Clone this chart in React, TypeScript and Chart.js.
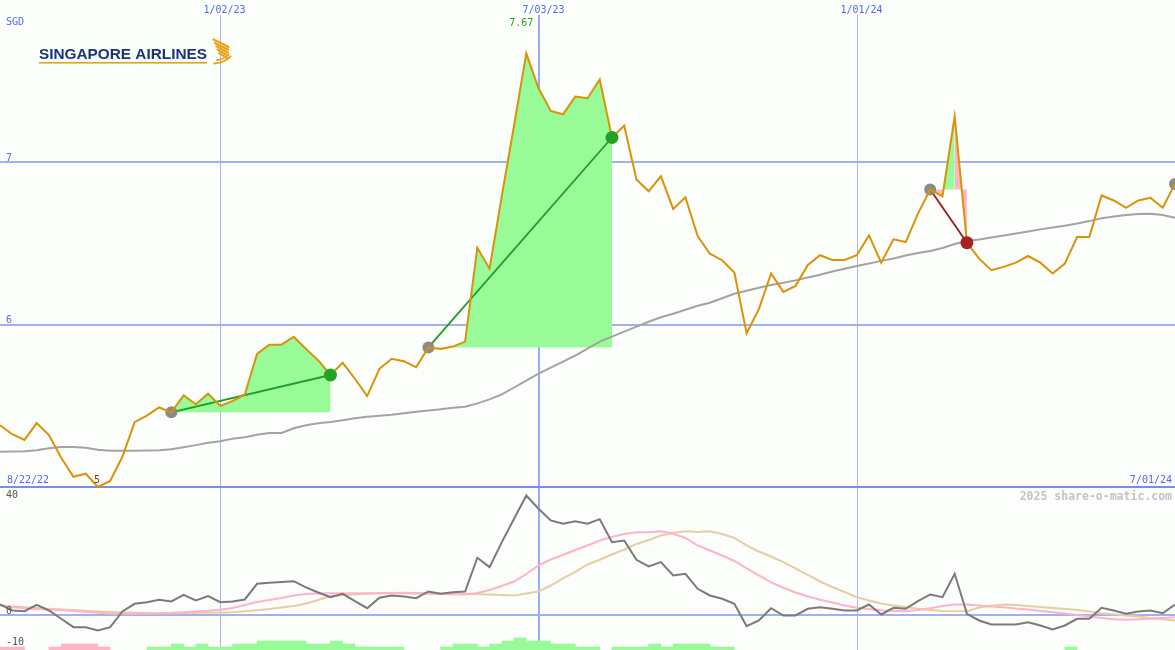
import { useEffect, useRef } from 'react';
import { Chart, registerables } from 'chart.js';

Chart.register(...registerables);

// Weekly closing price of Singapore Airlines (SGD), first week 8/22/22
const weeklyClose = [
  5.38, 5.325, 5.29, 5.394, 5.32, 5.18, 5.063, 5.082, 5.0, 5.037,
  5.186, 5.4, 5.44, 5.49, 5.46, 5.565, 5.51, 5.575, 5.5, 5.53,
  5.57, 5.82, 5.877, 5.877, 5.926, 5.85, 5.78, 5.69, 5.765, 5.667,
  5.56, 5.728, 5.79, 5.775, 5.738, 5.86, 5.85, 5.865, 5.896, 6.474,
  6.345, 6.793, 7.227, 7.67, 7.456, 7.317, 7.296, 7.405, 7.395, 7.51,
  7.153, 7.225, 6.894, 6.822, 6.914, 6.713, 6.785, 6.546, 6.437, 6.397,
  6.321, 5.947, 6.096, 6.315, 6.202, 6.239, 6.368, 6.428, 6.399, 6.399,
  6.428, 6.55, 6.382, 6.526, 6.509, 6.684, 6.833, 6.79, 7.282, 6.505,
  6.407, 6.336, 6.356, 6.382, 6.423, 6.382, 6.315, 6.376, 6.54, 6.54,
  6.796, 6.765, 6.72, 6.765, 6.781, 6.72, 6.867,
];

// Long moving average of the close
const movingAverage = [
  5.217, 5.219, 5.221, 5.227, 5.239, 5.247, 5.247, 5.242, 5.23, 5.223,
  5.223, 5.224, 5.225, 5.227, 5.233, 5.245, 5.258, 5.272, 5.282, 5.298,
  5.307, 5.322, 5.333, 5.333, 5.362, 5.38, 5.393, 5.401, 5.411, 5.423,
  5.433, 5.439, 5.445, 5.454, 5.463, 5.472, 5.479, 5.488, 5.494, 5.515,
  5.54, 5.571, 5.613, 5.656, 5.699, 5.736, 5.773, 5.81, 5.853, 5.896,
  5.926, 5.957, 5.988, 6.018, 6.046, 6.067, 6.092, 6.117, 6.135, 6.163,
  6.19, 6.209, 6.227, 6.245, 6.258, 6.273, 6.291, 6.307, 6.328, 6.344,
  6.362, 6.377, 6.393, 6.408, 6.426, 6.442, 6.454, 6.472, 6.497, 6.515,
  6.525, 6.537, 6.549, 6.561, 6.574, 6.587, 6.598, 6.61, 6.623, 6.638,
  6.655, 6.666, 6.675, 6.681, 6.683, 6.675, 6.658,
];

// Lower panel: momentum oscillator
const momentum = [
  3.79, 1.72, 1.48, 3.69, 1.72, -1.14, -4.03, -4.03, -5.17, -4.03,
  1.38, 4.03, 4.59, 5.41, 4.83, 7.14, 5.17, 6.66, 4.59, 4.83,
  5.52, 10.93, 11.28, 11.55, 11.83, 9.66, 7.93, 6.31, 7.48, 4.93,
  2.52, 6.1, 6.9, 6.55, 5.97, 8.28, 7.48, 8.03, 8.28, 19.9,
  16.66, 25.28, 33.34, 41.38, 36.79, 32.76, 31.62, 32.52, 31.62, 33.21,
  25.28, 25.86, 19.21, 16.9, 18.38, 13.79, 14.38, 9.21, 6.9, 5.76,
  4.03, -3.69, -1.72, 2.52, 0, 0, 2.31, 2.86, 2.31, 1.72,
  1.72, 3.79, 0.34, 2.66, 2.31, 4.93, 7.24, 6.31, 14.38, 0.59,
  -1.72, -3.1, -3.1, -3.1, -2.31, -3.45, -4.83, -3.45, -1.14, -1.14,
  2.66, 1.72, 0.59, 1.38, 1.72, 0.79, 3.79,
];

// Lower panel: fast smoothing of the oscillator
const fastSignal = [
  3.45, 2.93, 2.52, 2.24, 2.07, 1.83, 1.55, 1.28, 0.93, 0.59,
  0.59, 0.59, 0.59, 0.69, 0.93, 1.14, 1.38, 1.62, 1.97, 2.59,
  3.62, 4.66, 5.34, 6.03, 6.9, 7.41, 7.59, 7.69, 7.69, 7.69,
  7.69, 7.69, 7.69, 7.69, 7.59, 7.48, 7.41, 7.34, 7.24, 7.76,
  8.79, 10.17, 11.72, 14.31, 17.24, 19.31, 20.86, 22.59, 24.14, 25.86,
  27.07, 28.1, 28.72, 28.72, 29.07, 28.17, 26.72, 24.14, 22.41, 20.69,
  18.79, 16.21, 13.79, 11.38, 9.55, 7.93, 6.55, 5.45, 4.48, 3.45,
  2.66, 2.24, 1.79, 1.62, 1.48, 1.9, 2.52, 3.28, 3.79, 3.79,
  3.45, 3.1, 2.86, 2.41, 2.07, 1.55, 1.14, 0.69, 0.17, -0.34,
  -0.86, -1.31, -1.48, -1.31, -1.14, -0.86, -0.59,
];

// Lower panel: slow smoothing of the oscillator
const slowSignal = [
  3.45, 3.1, 2.83, 2.59, 2.34, 2.07, 1.86, 1.62, 1.38, 1.21,
  1.03, 0.93, 0.86, 0.79, 0.79, 0.86, 0.93, 0.97, 1.03, 1.14,
  1.48, 1.83, 2.24, 2.76, 3.28, 4.14, 5.34, 6.72, 7.07, 7.24,
  7.48, 7.66, 7.76, 7.83, 7.76, 7.69, 7.59, 7.48, 7.41, 7.31,
  7.24, 7.07, 6.9, 7.59, 8.28, 10.34, 12.76, 15.0, 17.59, 19.21,
  21.03, 22.76, 24.66, 26.03, 27.59, 28.45, 29.07, 28.79, 29.07, 28.1,
  26.72, 24.14, 22.07, 20.34, 18.38, 16.21, 13.97, 11.72, 9.83, 8.1,
  6.31, 5.17, 4.14, 3.45, 2.93, 2.31, 1.9, 1.55, 1.48, 1.48,
  2.76, 3.34, 3.79, 3.62, 3.28, 2.93, 2.59, 2.34, 1.9, 1.38,
  0.79, 0.41, 0, -0.34, -0.86, -1.31, -1.72,
];

// Weekly signal strength: positive = bullish (green), negative = bearish (pink)
const signalBars = [
  -1, -1, 0, 0, -1, -2, -2, -2, -1, 0,
  0, 0, 1, 1, 2, 1, 2, 1, 1, 2,
  2, 3, 3, 3, 3, 2, 2, 3, 2, 1,
  1, 1, 1, 0, 0, 0, 1, 2, 2, 1,
  2, 3, 4, 3, 3, 2, 2, 1, 1, 0,
  1, 1, 1, 2, 1, 2, 2, 2, 1, 1,
  0, 0, 0, 0, 0, 0, 0, 0, 0, 0,
  0, 0, 0, 0, 0, 0, 0, 0, 0, 0,
  0, 0, 0, 0, 0, 0, 0, 1, 0, 0,
  0, 0, 0, 0, 0, 0, 0,
];

// Trades: week of entry and week of exit (null = still open)
const tradeEntries = [14, 35, 76, 96];
const tradeExits: (number | null)[] = [27, 50, 79, null];

const dateTickWeeks = [18, 44, 70];
const dateTickLabels = ['1/02/23', '7/03/23', '1/01/24'];
const firstDateLabel = '8/22/22';
const lastDateLabel = '7/01/24';
const priceGridLevels = [7, 6];
const priceFloor = 5;
const oscillatorLabels = [40, 0, -10];
const currencyLabel = 'SGD';
const brandName = 'SINGAPORE AIRLINES';
const creditText = '2025 share-o-matic.com';

const PAGE_BG = '#fcfefc';
const GRID_BLUE = '#a3b0f0';
const GRID_BLUE_DARK = '#7b8be8';
const VLINE_MINOR = '#aab5ec';
const VLINE_MAJOR = '#9aa9f2';
const LABEL_BLUE = '#5468ec';
const LABEL_GREY = '#555555';
const PRICE_ORANGE = '#da9208';
const AVG_GREY = '#a3a3a3';
const MOM_GREY = '#7a7a7a';
const FAST_PINK = '#ffb3cb';
const SLOW_TAN = '#e3cfa2';
const GAIN_FILL = '#98fb98';
const LOSS_FILL = '#ffb6c1';
const WIN_LINE = '#249c24';
const LOSS_LINE = '#9a1a1a';
const ENTRY_DOT = '#8a8a8a';
const WIN_DOT = '#24a024';
const LOSS_DOT = '#a82020';
const MONO = '"DejaVu Sans Mono", monospace';

const fmt = (v: number) => String(Number(v.toFixed(2)));

function drawBrand(ctx: CanvasRenderingContext2D) {
  ctx.save();
  ctx.font = 'bold 15px "Liberation Sans", Arial, sans-serif';
  const w = ctx.measureText(brandName).width;
  ctx.translate(39, 59);
  ctx.scale(168 / w, 1);
  ctx.fillStyle = '#1d3377';
  ctx.fillText(brandName, 0, 0);
  ctx.restore();

  ctx.save();
  ctx.fillStyle = '#e6a21c';
  ctx.fillRect(39, 62, 168, 1.6);
  // stylised bird emblem: fanned wing stripes over a curved tail
  ctx.strokeStyle = '#eaa514';
  ctx.lineWidth = 2.2;
  ctx.lineCap = 'round';
  for (let k = 0; k < 5; k++) {
    ctx.beginPath();
    ctx.moveTo(213.5 + k * 1.4, 39.5 + k * 3.4);
    ctx.quadraticCurveTo(222 + k * 0.6, 43.5 + k * 3.2, 228.5 - k * 0.3, 47 + k * 2.8);
    ctx.stroke();
  }
  ctx.lineWidth = 1.8;
  ctx.beginPath();
  ctx.moveTo(214, 63.5);
  ctx.quadraticCurveTo(224, 63, 230.5, 56.5);
  ctx.stroke();
  ctx.beginPath();
  ctx.moveTo(217, 60);
  ctx.quadraticCurveTo(224, 59.5, 228.5, 54.5);
  ctx.stroke();
  ctx.restore();
}

const panelPlugin = {
  id: 'sharePanels',
  beforeDraw(chart: any) {
    const { ctx, width, height } = chart;
    ctx.save();
    ctx.fillStyle = PAGE_BG;
    ctx.fillRect(0, 0, width, height);
    ctx.restore();
  },
  beforeDatasetsDraw(chart: any) {
    const { ctx, width, height } = chart;
    const { x, y, y2 } = chart.scales;
    ctx.save();
    dateTickWeeks.forEach((wk, k) => {
      const major = dateTickLabels[k].startsWith('7/');
      const px = Math.round(x.getPixelForValue(wk)) + (major ? 0 : 0.5);
      ctx.strokeStyle = major ? VLINE_MAJOR : VLINE_MINOR;
      ctx.lineWidth = major ? 2 : 1;
      ctx.beginPath();
      ctx.moveTo(px, 15);
      ctx.lineTo(px, height);
      ctx.stroke();
    });
    const hline = (py: number, color: string) => {
      ctx.strokeStyle = color;
      ctx.lineWidth = 2;
      ctx.beginPath();
      ctx.moveTo(0, Math.round(py));
      ctx.lineTo(width, Math.round(py));
      ctx.stroke();
    };
    priceGridLevels.forEach((v) => hline(y.getPixelForValue(v), GRID_BLUE));
    hline(y2.getPixelForValue(0), GRID_BLUE);
    hline(y.getPixelForValue(priceFloor), GRID_BLUE_DARK);
    ctx.restore();
  },
  afterDatasetsDraw(chart: any) {
    const { ctx } = chart;
    const { x, y, y2 } = chart.scales;
    ctx.save();
    ctx.font = `10px ${MONO}`;
    ctx.textBaseline = 'alphabetic';

    ctx.fillStyle = LABEL_BLUE;
    ctx.textAlign = 'left';
    ctx.fillText(currencyLabel, 6, 25);
    dateTickWeeks.forEach((wk, k) => {
      ctx.fillText(dateTickLabels[k], Math.round(x.getPixelForValue(wk)) - 16.5, 12.5);
    });
    priceGridLevels.forEach((v) => ctx.fillText(String(v), 6, y.getPixelForValue(v) - 1.5));
    ctx.fillText(firstDateLabel, 7, 483);
    ctx.textAlign = 'right';
    ctx.fillText(lastDateLabel, 1172, 483);

    ctx.textAlign = 'left';
    ctx.fillStyle = LABEL_GREY;
    oscillatorLabels.forEach((v) => ctx.fillText(String(v), 6, y2.getPixelForValue(v) + (v < 0 ? 1 : -1)));

    // extreme close labels
    let hi = 0;
    let lo = 0;
    weeklyClose.forEach((v, i) => {
      if (v > weeklyClose[hi]) hi = i;
      if (v < weeklyClose[lo]) lo = i;
    });
    ctx.fillStyle = '#22a022';
    ctx.textAlign = 'right';
    ctx.fillText(fmt(weeklyClose[hi]), x.getPixelForValue(hi) + 7, 26);
    ctx.fillStyle = '#aa2222';
    ctx.textAlign = 'center';
    ctx.fillText(fmt(weeklyClose[lo]), x.getPixelForValue(lo) - 1, y.getPixelForValue(weeklyClose[lo]) - 4);

    ctx.font = `bold 11.5px ${MONO}`;
    ctx.fillStyle = '#c4c4c4';
    ctx.textAlign = 'right';
    ctx.fillText(creditText, 1172, 500);
    ctx.restore();

    drawBrand(ctx);
  },
};

export default function App() {
  const canvasRef = useRef<HTMLCanvasElement | null>(null);

  useEffect(() => {
    const canvas = canvasRef.current;
    if (!canvas) return;
    const series = (values: number[]) => values.map((v, i) => ({ x: i, y: v }));
    const datasets: any[] = [];

    // signal histogram along the bottom edge
    datasets.push({
      type: 'bar',
      data: signalBars.map((v, i) => ({ x: i + 0.5, y: v })).filter((p) => p.y > 0),
      yAxisID: 'yb',
      backgroundColor: GAIN_FILL,
      borderWidth: 0,
      barPercentage: 1,
      categoryPercentage: 1,
      grouped: false,
      order: 20,
    });
    datasets.push({
      type: 'bar',
      data: signalBars.map((v, i) => ({ x: i + 0.5, y: -v })).filter((p) => p.y > 0),
      yAxisID: 'yb',
      backgroundColor: LOSS_FILL,
      borderWidth: 0,
      barPercentage: 1,
      categoryPercentage: 1,
      grouped: false,
      order: 20,
    });

    const lineStyle = { pointRadius: 0, pointHoverRadius: 0, tension: 0, fill: false };
    datasets.push({ ...lineStyle, data: series(slowSignal), yAxisID: 'y2', borderColor: SLOW_TAN, borderWidth: 2, order: 13 });
    datasets.push({ ...lineStyle, data: series(fastSignal), yAxisID: 'y2', borderColor: FAST_PINK, borderWidth: 2, order: 12 });
    datasets.push({ ...lineStyle, data: series(momentum), yAxisID: 'y2', borderColor: MOM_GREY, borderWidth: 2, order: 11 });

    tradeEntries.forEach((entry, k) => {
      const exit = tradeExits[k];
      const entryPrice = weeklyClose[entry];
      if (exit !== null) {
        const exitPrice = weeklyClose[exit];
        const win = exitPrice >= entryPrice;
        const span = [];
        for (let i = entry; i <= exit; i++) span.push({ x: i, y: weeklyClose[i] });
        datasets.push({
          ...lineStyle,
          data: span,
          yAxisID: 'y',
          borderColor: 'rgba(0,0,0,0)',
          borderWidth: 0,
          backgroundColor: GAIN_FILL,
          fill: { value: entryPrice },
          segment: {
            backgroundColor: (c: any) => (c.p1.parsed.y >= entryPrice ? GAIN_FILL : LOSS_FILL),
          },
          order: 10,
        });
        datasets.push({
          ...lineStyle,
          data: [
            { x: entry, y: entryPrice },
            { x: exit, y: exitPrice },
          ],
          yAxisID: 'y',
          borderColor: win ? WIN_LINE : LOSS_LINE,
          borderWidth: 1.8,
          order: 7,
        });
        datasets.push({
          data: [{ x: exit, y: exitPrice }],
          yAxisID: 'y',
          showLine: false,
          pointRadius: 6.5,
          pointHoverRadius: 6.5,
          pointBorderWidth: 0,
          pointBackgroundColor: win ? WIN_DOT : LOSS_DOT,
          order: 4,
        });
      }
      datasets.push({
        data: [{ x: entry, y: entryPrice }],
        yAxisID: 'y',
        showLine: false,
        pointRadius: 6,
        pointHoverRadius: 6,
        pointBorderWidth: 0,
        pointBackgroundColor: ENTRY_DOT,
        order: 6,
      });
    });

    datasets.push({ ...lineStyle, data: series(movingAverage), yAxisID: 'y', borderColor: AVG_GREY, borderWidth: 2, order: 8 });
    datasets.push({ ...lineStyle, data: series(weeklyClose), yAxisID: 'y', borderColor: PRICE_ORANGE, borderWidth: 2, order: 5 });

    const chart = new Chart(canvas, {
      type: 'line',
      data: { datasets },
      options: {
        animation: false,
        responsive: false,
        maintainAspectRatio: false,
        events: [],
        layout: { padding: 0, autoPadding: false },
        plugins: {
          legend: { display: false },
          tooltip: { enabled: false },
        },
        scales: {
          x: { type: 'linear', min: 0, max: weeklyClose.length - 1, offset: false, display: false },
          y: { type: 'linear', min: 3.996, max: 8, display: false },
          y2: { type: 'linear', min: -11.9, max: 212.2, display: false },
          yb: { type: 'linear', min: 0, max: 650 / 3, display: false },
        },
      },
      plugins: [panelPlugin],
    } as any);

    return () => chart.destroy();
  }, []);

  return (
    <div style={{ position: 'fixed', left: 0, top: 0, width: 1175, height: 650, background: PAGE_BG }}>
      <canvas ref={canvasRef} width={1175} height={650} style={{ display: 'block', width: 1175, height: 650 }} />
    </div>
  );
}
